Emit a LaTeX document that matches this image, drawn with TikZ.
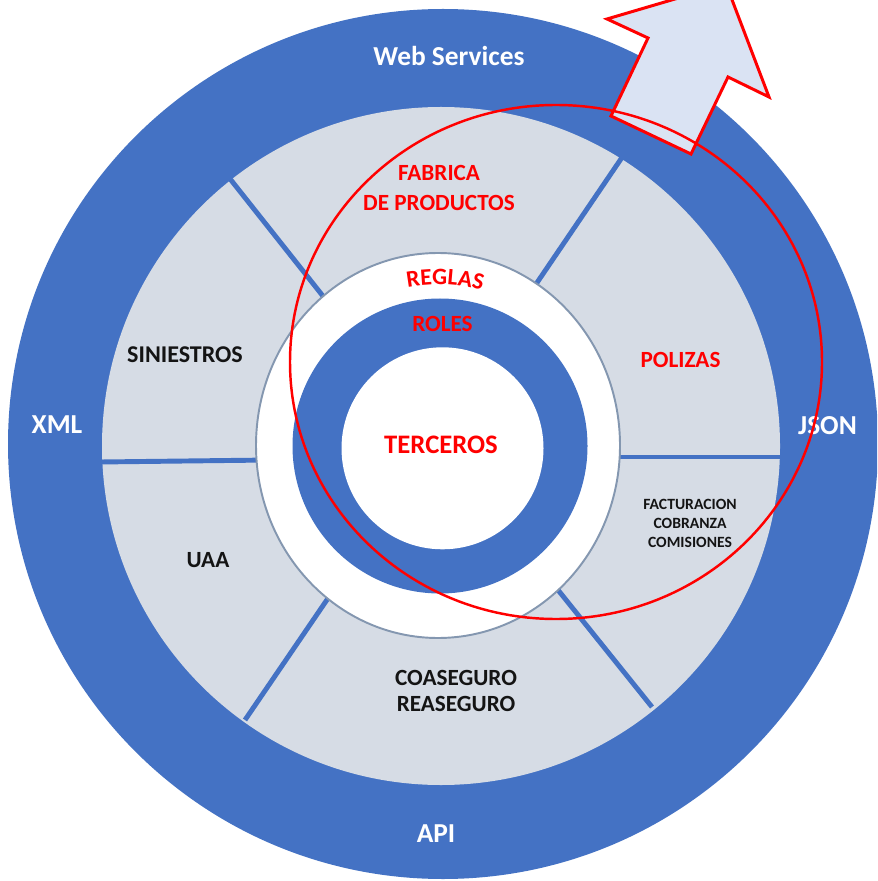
\documentclass[tikz,border=0pt]{standalone}
\usepackage{fontspec}
\setmainfont{Carlito}
\usetikzlibrary{decorations.text}
\definecolor{ringblue}{HTML}{4472C4}
\definecolor{sectorgray}{HTML}{D6DCE5}
\definecolor{rimgray}{HTML}{8497B0}
\definecolor{arrowfill}{HTML}{DAE3F3}
\definecolor{inkred}{HTML}{FF0000}
\definecolor{inkdark}{HTML}{141414}
\begin{document}
\begin{tikzpicture}[x=0.02cm,y=0.02cm,
  big/.style={font=\fontsize{15.6}{18}\selectfont\bfseries, inner sep=0pt},
  mid/.style={font=\fontsize{13.2}{16}\selectfont\bfseries, align=center, inner sep=0pt},
  small/.style={font=\fontsize{8.9}{10.8}\selectfont\bfseries, align=center, inner sep=0pt},
  divider/.style={ringblue, line width=2.8pt}]
\clip (0,0) rectangle (877,-881);
\fill[white] (0,0) rectangle (877,-881);
% rings
\fill[ringblue] (443,-444) circle [radius=435];
\fill[sectorgray] (441,-446) circle [radius=339];
\foreach \xa/\ya/\xb/\yb in {227/175/330/305, 625/153/530/293, 100/462/270/460,
    605/457/782/457, 245/720/335/588, 652/707/550/580}
  \draw[divider] (\xa,-\ya) -- (\xb,-\yb);
\draw[rimgray, fill=white, line width=1.1pt] (438,-445.5) ellipse [x radius=182, y radius=192.5];
\fill[ringblue] (440,-446) circle [radius=147.5];
\fill[white] (442.5,-448.3) circle [radius=101];
% outer labels
\node[big, white] (web) at (449,-56) {Web Services};
\node[big, white] (xml) at (57,-425) {XML};
\node[big, white] (json) at (827.5,-426) {JSON};
\node[big, white] (api) at (436,-834) {API};
% sectors
\node[mid, inkred, font=\fontsize{13.2}{16.8}\selectfont\bfseries] (fabrica) at (439,-188) {FABRICA\\DE PRODUCTOS};
\node[mid, inkred] (polizas) at (680.5,-360) {POLIZAS};
\node[mid, inkdark, font=\fontsize{13.7}{16}\selectfont\bfseries] (siniestros) at (185,-355) {SINIESTROS};
\node[mid, inkdark] (uaa) at (208,-560) {UAA};
\node[small, inkdark] (facturacion) at (690,-523) {FACTURACION\\COBRANZA\\COMISIONES};
\node[mid, inkdark, font=\fontsize{13.2}{15.3}\selectfont\bfseries] (coaseguro) at (456,-691) {COASEGURO\\REASEGURO};
% core
\path[decorate, decoration={text along path, text align=center,
    text={|\fontsize{13.4}{16}\selectfont\bfseries\color{inkred}|REGLAS}}]
  ([shift={(115:161)}]438,-445.5) arc [start angle=115, end angle=60, radius=161];
\node[mid, inkred] (roles) at (442.5,-324) {ROLES};
\node[big, inkred, font=\fontsize{15.2}{18}\selectfont\bfseries] (terceros) at (441,-445) {TERCEROS};
% arrow and circle
\draw[inkred, fill=arrowfill, line width=1.7pt, line join=miter]
  (611,-116) -- (648,-38) -- (607,-19) -- (726,16) -- (769,-97) -- (728,-77) -- (691,-154) -- cycle;
\draw[inkred, line width=1.4pt] (556,-362) ellipse [x radius=266, y radius=257];
\end{tikzpicture}
\end{document}
